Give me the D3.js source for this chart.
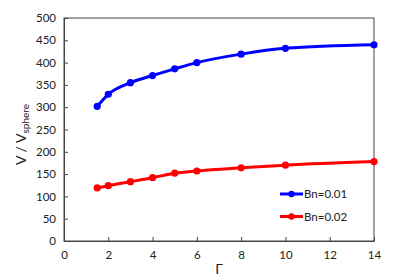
<!DOCTYPE html>
<html>
<head>
<meta charset="utf-8">
<script src="https://cdn.jsdelivr.net/npm/d3@7"></script>
<style>
  body { margin: 0; background: #fff; }
  text { font-family: Lato, "Liberation Sans", sans-serif; fill: #222; }
</style>
</head>
<body>
<div id="chart"></div>
<script>
// data
const gamma = [1.5, 2, 3, 4, 5, 6, 8, 10, 14];
const bn001 = [302, 329, 355, 371, 386, 400, 419, 432, 440];
const bn002 = [119, 124, 133, 142, 152, 157, 164, 170, 178];
const xTicks = [0, 2, 4, 6, 8, 10, 12, 14];
const yTicks = [0, 50, 100, 150, 200, 250, 300, 350, 400, 450, 500];

const series = [
    { name: "Bn=0.01", color: "#0000ff", values: bn001 },
    { name: "Bn=0.02", color: "#ff0000", values: bn002 }
];

const W = 415, H = 277;
const margin = { top: 18, right: 41, bottom: 36, left: 64 };

const svg = d3.select("#chart").append("svg")
    .attr("width", W)
    .attr("height", H);

const x = d3.scaleLinear().domain([0, 14]).range([margin.left, W - margin.right]);
const y = d3.scaleLinear().domain([0, 500]).range([H - margin.bottom, margin.top]);

// frame
svg.append("rect")
    .attr("x", margin.left)
    .attr("y", margin.top)
    .attr("width", x(14) - x(0))
    .attr("height", y(0) - y(500))
    .attr("fill", "none")
    .attr("stroke", "#444")
    .attr("stroke-width", 1);

// axes with inner ticks
const xAxis = svg.append("g")
    .attr("transform", `translate(0,${y(0)})`)
    .call(d3.axisBottom(x).tickValues(xTicks).tickSizeInner(-4).tickSizeOuter(0).tickPadding(10));
const yAxis = svg.append("g")
    .attr("transform", `translate(${x(0)},0)`)
    .call(d3.axisLeft(y).tickValues(yTicks).tickSizeInner(-4).tickSizeOuter(0).tickPadding(8));

[xAxis, yAxis].forEach(g => {
    g.select(".domain").attr("stroke", "#444");
    g.selectAll(".tick line").attr("stroke", "#444");
    g.selectAll(".tick text").attr("font-size", 11.5).attr("fill", "#222");
});

// lines and markers
const line = d3.line()
    .x((d, i) => x(gamma[i]))
    .y(d => y(d))
    .curve(d3.curveMonotoneX);

series.forEach(s => {
    svg.append("path")
        .datum(s.values)
        .attr("fill", "none")
        .attr("stroke", s.color)
        .attr("stroke-width", 3)
        .attr("d", line);

    svg.append("g")
        .selectAll("circle")
        .data(s.values)
        .join("circle")
        .attr("cx", (d, i) => x(gamma[i]))
        .attr("cy", d => y(d))
        .attr("r", 3.6)
        .attr("fill", s.color);
});

// legend
const legend = svg.append("g").attr("transform", "translate(280,194)");
series.forEach((s, i) => {
    const row = legend.append("g").attr("transform", `translate(0,${i * 22.5})`);
    row.append("line")
        .attr("x1", 0).attr("x2", 23)
        .attr("stroke", s.color)
        .attr("stroke-width", 3);
    row.append("circle")
        .attr("cx", 11.5).attr("r", 3.2)
        .attr("fill", s.color);
    row.append("text")
        .attr("x", 24)
        .attr("y", 4)
        .attr("font-size", 11.5)
        .text(s.name);
});

// axis titles
svg.append("text")
    .attr("x", x(7))
    .attr("y", 274)
    .attr("text-anchor", "middle")
    .attr("font-size", 14)
    .text("Γ");

const yLabel = svg.append("text")
    .attr("transform", `translate(26,${(y(0) + y(500)) / 2 + 5}) rotate(-90)`)
    .attr("text-anchor", "middle")
    .attr("font-size", 14);
yLabel.append("tspan").text("V / V");
yLabel.append("tspan")
    .attr("font-size", 10)
    .attr("dy", 3)
    .text("sphere");
</script>
</body>
</html>
